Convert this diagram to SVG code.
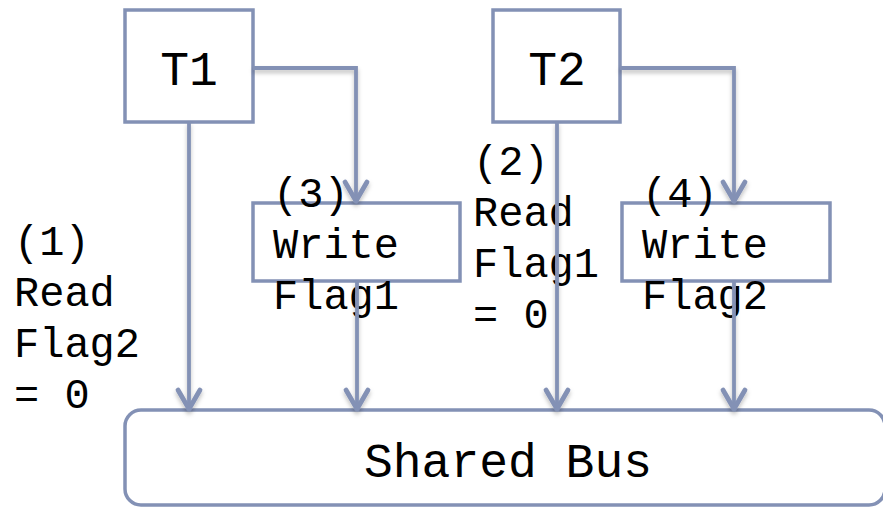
<svg xmlns="http://www.w3.org/2000/svg" width="883" height="507" viewBox="0 0 883 507">
  <style>
    .box { fill: #ffffff; stroke: #8391b5; stroke-width: 3.5; }
    .wire { fill: none; stroke: #8391b5; stroke-width: 3.8; marker-end: url(#arrow); }
    .title { font-family: "Courier New", "Liberation Mono", monospace; font-size: 48px; fill: #000000; text-anchor: middle; }
    .note { font-family: "Courier New", "Liberation Mono", monospace; font-size: 42px; fill: #000000; }
  </style>
  <defs>
    <marker id="arrow" markerUnits="userSpaceOnUse" markerWidth="30" markerHeight="30" viewBox="-24 -15 28 30" refX="0" refY="0" orient="auto">
      <path d="M-20,-11 L-1,0 L-20,11" fill="none" stroke="#8391b5" stroke-width="4.8" stroke-linecap="round" stroke-linejoin="round"/>
    </marker>
    <filter id="shadow" x="-20%" y="-20%" width="140%" height="140%">
      <feDropShadow dx="0" dy="3" stdDeviation="2" flood-color="#000000" flood-opacity="0.25"/>
    </filter>
  </defs>

  <!-- thread T1 -->
  <g id="t1">
    <rect class="box" x="125" y="10" width="128" height="112"/>
    <text class="title" x="189" y="85">T1</text>
  </g>

  <!-- thread T2 -->
  <g id="t2">
    <rect class="box" x="493" y="10" width="127" height="112"/>
    <text class="title" x="557" y="85">T2</text>
  </g>

  <!-- write of Flag1 -->
  <g id="write1">
    <rect class="box" x="253" y="203" width="207" height="78"/>
    <text class="note" x="273" y="207">(3)</text>
    <text class="note" x="273" y="258">Write</text>
    <text class="note" x="273" y="309">Flag1</text>
  </g>

  <!-- write of Flag2 -->
  <g id="write2">
    <rect class="box" x="622" y="203" width="208" height="78"/>
    <text class="note" x="642" y="207">(4)</text>
    <text class="note" x="642" y="258">Write</text>
    <text class="note" x="642" y="309">Flag2</text>
  </g>

  <!-- shared bus -->
  <g id="bus">
    <rect class="box" x="125" y="410" width="760" height="95" rx="16" ry="16"/>
    <text class="title" x="508" y="477">Shared Bus</text>
  </g>

  <!-- read of Flag2 by T1 -->
  <g id="read1">
    <text class="note" x="14" y="255">(1)</text>
    <text class="note" x="14" y="306">Read</text>
    <text class="note" x="14" y="357">Flag2</text>
    <text class="note" x="14" y="408">= 0</text>
  </g>

  <!-- read of Flag1 by T2 -->
  <g id="read2">
    <text class="note" x="473" y="175">(2)</text>
    <text class="note" x="473" y="226">Read</text>
    <text class="note" x="473" y="277">Flag1</text>
    <text class="note" x="473" y="328">= 0</text>
  </g>

  <!-- connectors -->
  <g id="connectors" filter="url(#shadow)">
    <path class="wire" d="M189,122 L189,410"/>
    <path class="wire" d="M253,68 L356,68 L356,202"/>
    <path class="wire" d="M357,281 L357,410"/>
    <path class="wire" d="M557,122 L557,410"/>
    <path class="wire" d="M620,68 L734,68 L734,202"/>
    <path class="wire" d="M734,281 L734,410"/>
  </g>
</svg>
